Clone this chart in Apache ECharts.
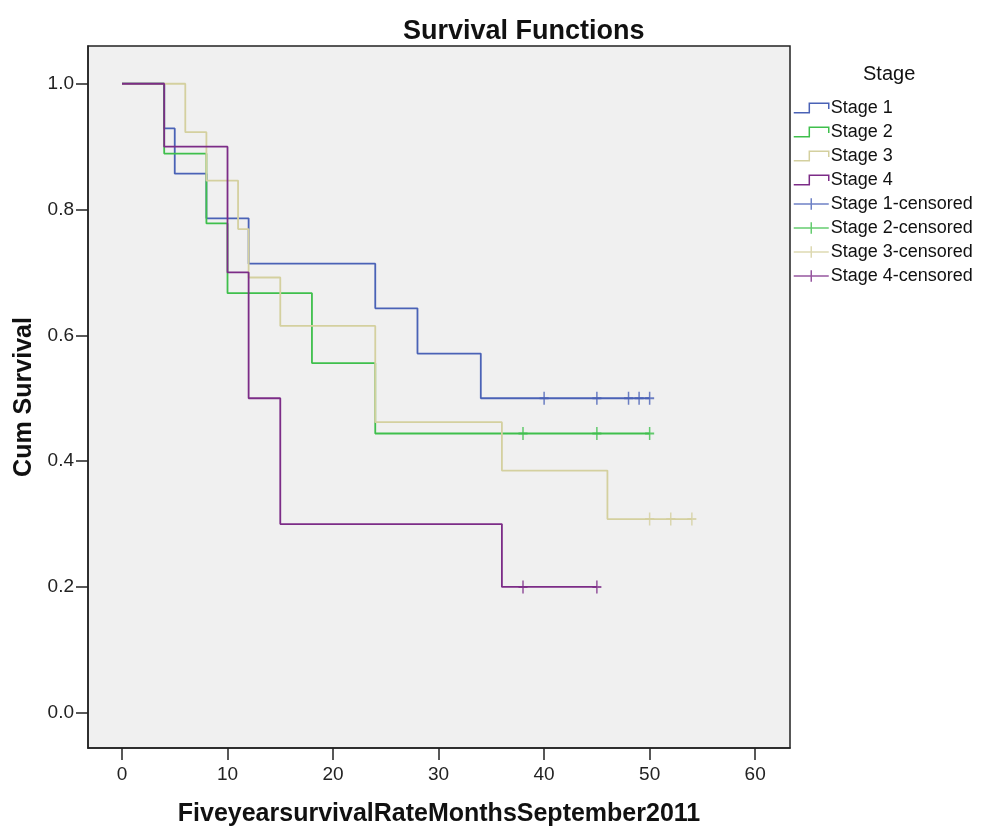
<!DOCTYPE html>
<html>
<head>
<meta charset="utf-8">
<script src="https://cdn.jsdelivr.net/npm/echarts@6/dist/echarts.min.js"></script>
<style>
  html, body { margin: 0; padding: 0; background: #fff; }
  #main { width: 984px; height: 828px; }
</style>
</head>
<body>
<div id="main"></div>
<script>
// Kaplan-Meier steps
var stage1Time = [0, 4, 5, 8, 12, 24, 28, 34, 50];
var stage1Surv = [1, 0.929, 0.857, 0.786, 0.714, 0.643, 0.571, 0.5, 0.5];
var stage1Cens = [40, 45, 48, 49, 50];

var stage2Time = [0, 4, 8, 10, 18, 24, 50];
var stage2Surv = [1, 0.889, 0.778, 0.667, 0.556, 0.444, 0.444];
var stage2Cens = [38, 45, 50];

var stage3Time = [0, 6, 8, 11, 12, 15, 24, 36, 46, 54];
var stage3Surv = [1, 0.923, 0.846, 0.769, 0.692, 0.615, 0.462, 0.385, 0.308, 0.308];
var stage3Cens = [50, 52, 54];

var stage4Time = [0, 4, 10, 12, 15, 36, 45];
var stage4Surv = [1, 0.9, 0.7, 0.5, 0.3, 0.2, 0.2];
var stage4Cens = [38, 45];

var xTicks = [0, 10, 20, 30, 40, 50, 60];
var yTicks = [0, 0.2, 0.4, 0.6, 0.8, 1.0];

var stageNames = ['Stage 1', 'Stage 2', 'Stage 3', 'Stage 4'];
var colors = ['#4a62b6', '#3fbf4c', '#d4d09f', '#7c2c87'];

var times = [stage1Time, stage2Time, stage3Time, stage4Time];
var survs = [stage1Surv, stage2Surv, stage3Surv, stage4Surv];
var cens = [stage1Cens, stage2Cens, stage3Cens, stage4Cens];

var stepIcon = 'path://M0,12 L16,12 L16,2 L36,2 L36,8';
var crossIcon = 'path://M0,6 L36,6 M18,0 L18,12';
var tickMark = 'path://M0,6 L8,6 M4,0 L4,12';

var font = 'Liberation Sans, Arial, sans-serif';

function getSeries() {
    var arr = [];
    // survival curves
    stageNames.forEach(function (name, i) {
        arr.push({
            name: name,
            type: 'line',
            step: 'end',
            showSymbol: false,
            symbol: 'none',
            data: times[i].map(function (t, k) { return [t, survs[i][k]]; }),
            lineStyle: { color: colors[i], width: 1.8 },
            itemStyle: { color: colors[i] },
            z: 2 + i
        });
    });
    // censored marks, sitting on the last level of each curve
    stageNames.forEach(function (name, i) {
        var last = survs[i][survs[i].length - 1];
        arr.push({
            name: name + '-censored',
            type: 'scatter',
            symbol: tickMark,
            symbolSize: [9, 13],
            data: cens[i].map(function (t) { return [t, last]; }),
            itemStyle: { color: 'transparent', borderColor: colors[i], borderWidth: 1.8 },
            z: 6 + i
        });
    });
    return arr;
}

function legendData() {
    var d = [];
    stageNames.forEach(function (name, i) {
        d.push({ name: name, icon: stepIcon,
            itemStyle: { color: 'transparent', borderColor: colors[i], borderWidth: 1.5 } });
    });
    stageNames.forEach(function (name, i) {
        d.push({ name: name + '-censored', icon: crossIcon,
            itemStyle: { color: 'transparent', borderColor: colors[i], borderWidth: 1.5 } });
    });
    return d;
}

var myChart = echarts.init(document.getElementById('main'));
myChart.setOption({
    animation: false,
    backgroundColor: '#ffffff',
    title: [
        {
            text: 'Survival Functions',
            left: 398,
            top: 13,
            textStyle: { fontFamily: font, fontSize: 27, fontWeight: 'bold', color: '#111' }
        },
        {
            text: 'Stage',
            left: 858,
            top: 59,
            textStyle: { fontFamily: font, fontSize: 20, fontWeight: 'normal', color: '#111' }
        }
    ],
    legend: {
        show: true,
        orient: 'vertical',
        left: 793,
        top: 98,
        padding: 0,
        itemWidth: 35,
        itemHeight: 12,
        itemGap: 4,
        selectedMode: false,
        data: legendData(),
        textStyle: { fontFamily: font, fontSize: 18, color: '#111', lineHeight: 20, padding: [0, 0, 0, -3] }
    },
    grid: {
        left: 88,
        right: 194,
        top: 46,
        bottom: 80,
        outerBoundsMode: 'none',
        containLabel: false,
        show: true,
        backgroundColor: '#f0f0f0',
        borderColor: '#222',
        borderWidth: 1.5
    },
    xAxis: {
        type: 'value',
        min: -3.22,
        max: 63.3,
        name: 'FiveyearsurvivalRateMonthsSeptember2011',
        nameLocation: 'middle',
        nameGap: 54,
        nameTextStyle: { fontFamily: font, fontSize: 25, fontWeight: 'bold', color: '#111' },
        axisLine: { show: true, onZero: false, lineStyle: { color: '#222', width: 1.5 } },
        axisTick: { show: true, length: 12, customValues: xTicks, lineStyle: { color: '#222', width: 1.5 } },
        axisLabel: { customValues: xTicks, margin: 17, fontFamily: font, fontSize: 19, color: '#222' },
        splitLine: { show: false }
    },
    yAxis: {
        type: 'value',
        min: -0.056,
        max: 1.06,
        name: 'Cum Survival',
        nameLocation: 'middle',
        nameGap: 50,
        nameTextStyle: { fontFamily: font, fontSize: 25, fontWeight: 'bold', color: '#111' },
        axisLine: { show: true, onZero: false, lineStyle: { color: '#222', width: 1.5 } },
        axisTick: { show: true, length: 12, customValues: yTicks, lineStyle: { color: '#222', width: 1.5 } },
        axisLabel: {
            customValues: yTicks, margin: 14, fontFamily: font, fontSize: 19, color: '#222',
            formatter: function (v) { return v.toFixed(1); }
        },
        splitLine: { show: false }
    },
    series: getSeries()
});
</script>
</body>
</html>
